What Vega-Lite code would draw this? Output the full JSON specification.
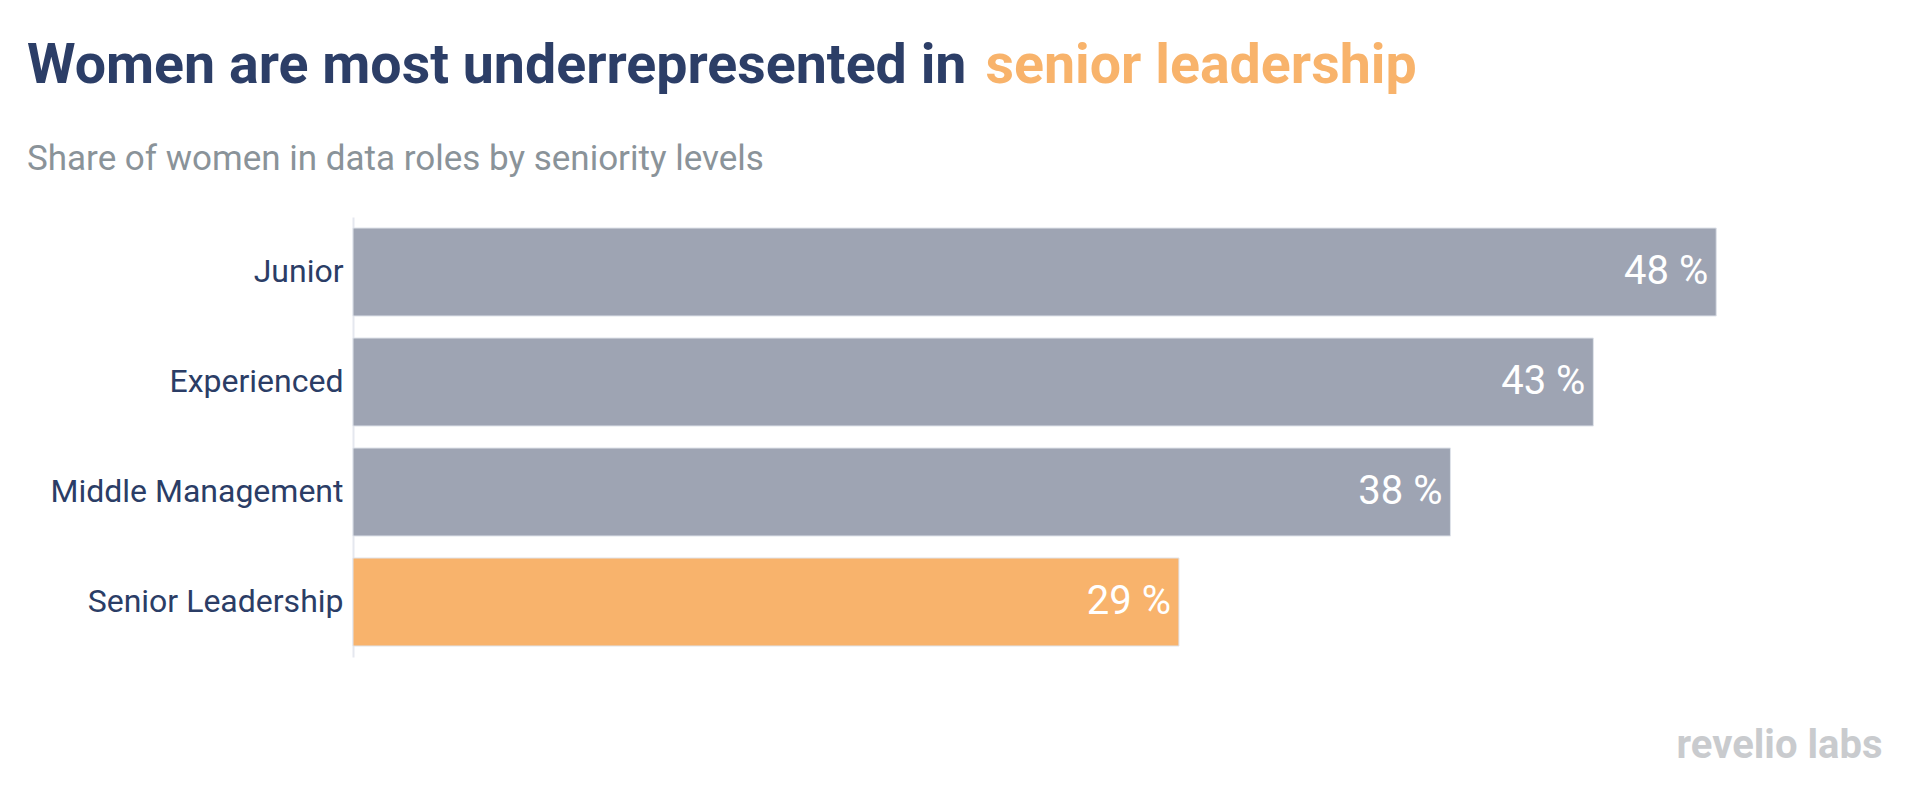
{
  "$schema": "https://vega.github.io/schema/vega-lite/v6.json",
  "width": 1529,
  "height": 440,
  "autosize": {"type": "none"},
  "padding": {"left": 353, "top": 217, "right": 26, "bottom": 129},
  "background": "white",
  "title": {
    "text": "Women are most underrepresented in",
    "subtitle": "Share of women in data roles by seniority levels",
    "anchor": "start",
    "frame": "group",
    "dx": -326,
    "font": "Roboto",
    "fontSize": 55.5,
    "fontWeight": "bold",
    "color": "#2c3e67",
    "subtitleFont": "Roboto",
    "subtitleFontSize": 35,
    "subtitleFontWeight": "normal",
    "subtitleColor": "#8a9399",
    "subtitlePadding": 48,
    "offset": -139
  },
  "config": {"view": {"stroke": null}},
  "data": {
    "values": [
      {"level": "Junior", "share": 47.7},
      {"level": "Experienced", "share": 43.4},
      {"level": "Middle Management", "share": 38.4},
      {"level": "Senior Leadership", "share": 28.9}
    ]
  },
  "transform": [{"calculate": "format(datum.share, '.0f') + ' %'", "as": "label"}],
  "encoding": {
    "y": {
      "field": "level",
      "type": "nominal",
      "sort": null,
      "scale": {"paddingInner": 0.2, "paddingOuter": 0.1},
      "axis": {
        "title": "revelio labs",
        "titleX": 1529,
        "titleY": 540,
        "titleAngle": 0,
        "titleAlign": "right",
        "titleBaseline": "alphabetic",
        "titleAnchor": null,
        "titleFont": "Roboto",
        "titleFontSize": 40,
        "titleFontWeight": "bold",
        "titleColor": "#c9cbce",
        "labelFont": "Roboto",
        "labelFontSize": 32,
        "labelColor": "#2b3d66",
        "labelPadding": 10,
        "labelLimit": 0,
        "ticks": false,
        "grid": false,
        "domainColor": "#e5e8ef",
        "domainWidth": 2
      }
    },
    "x": {
      "field": "share",
      "type": "quantitative",
      "scale": {"domain": [0, 53.5], "nice": false, "zero": true},
      "axis": {
        "orient": "top",
        "title": "senior leadership",
        "labels": false,
        "ticks": false,
        "domain": false,
        "grid": false,
        "titleX": 632,
        "titleY": -135,
        "titleAngle": 0,
        "titleAlign": "left",
        "titleBaseline": "alphabetic",
        "titleAnchor": null,
        "titleFont": "Roboto",
        "titleFontSize": 55.5,
        "titleFontWeight": "bold",
        "titleColor": "#f8b36b",
        "titlePadding": 0,
        "titleLimit": 0
      }
    }
  },
  "layer": [
    {
      "mark": {"type": "bar", "stroke": "#dfe3ea", "strokeWidth": 1},
      "encoding": {
        "color": {
          "field": "level",
          "type": "nominal",
          "scale": {
            "domain": ["Junior", "Experienced", "Middle Management", "Senior Leadership"],
            "range": ["#9ea4b3", "#9ea4b3", "#9ea4b3", "#f8b36c"]
          },
          "legend": null
        }
      }
    },
    {
      "mark": {"type": "text", "align": "right", "baseline": "middle", "dx": -8, "font": "Roboto", "fontSize": 40, "color": "white"},
      "encoding": {"text": {"field": "label", "type": "nominal"}}
    }
  ]
}
